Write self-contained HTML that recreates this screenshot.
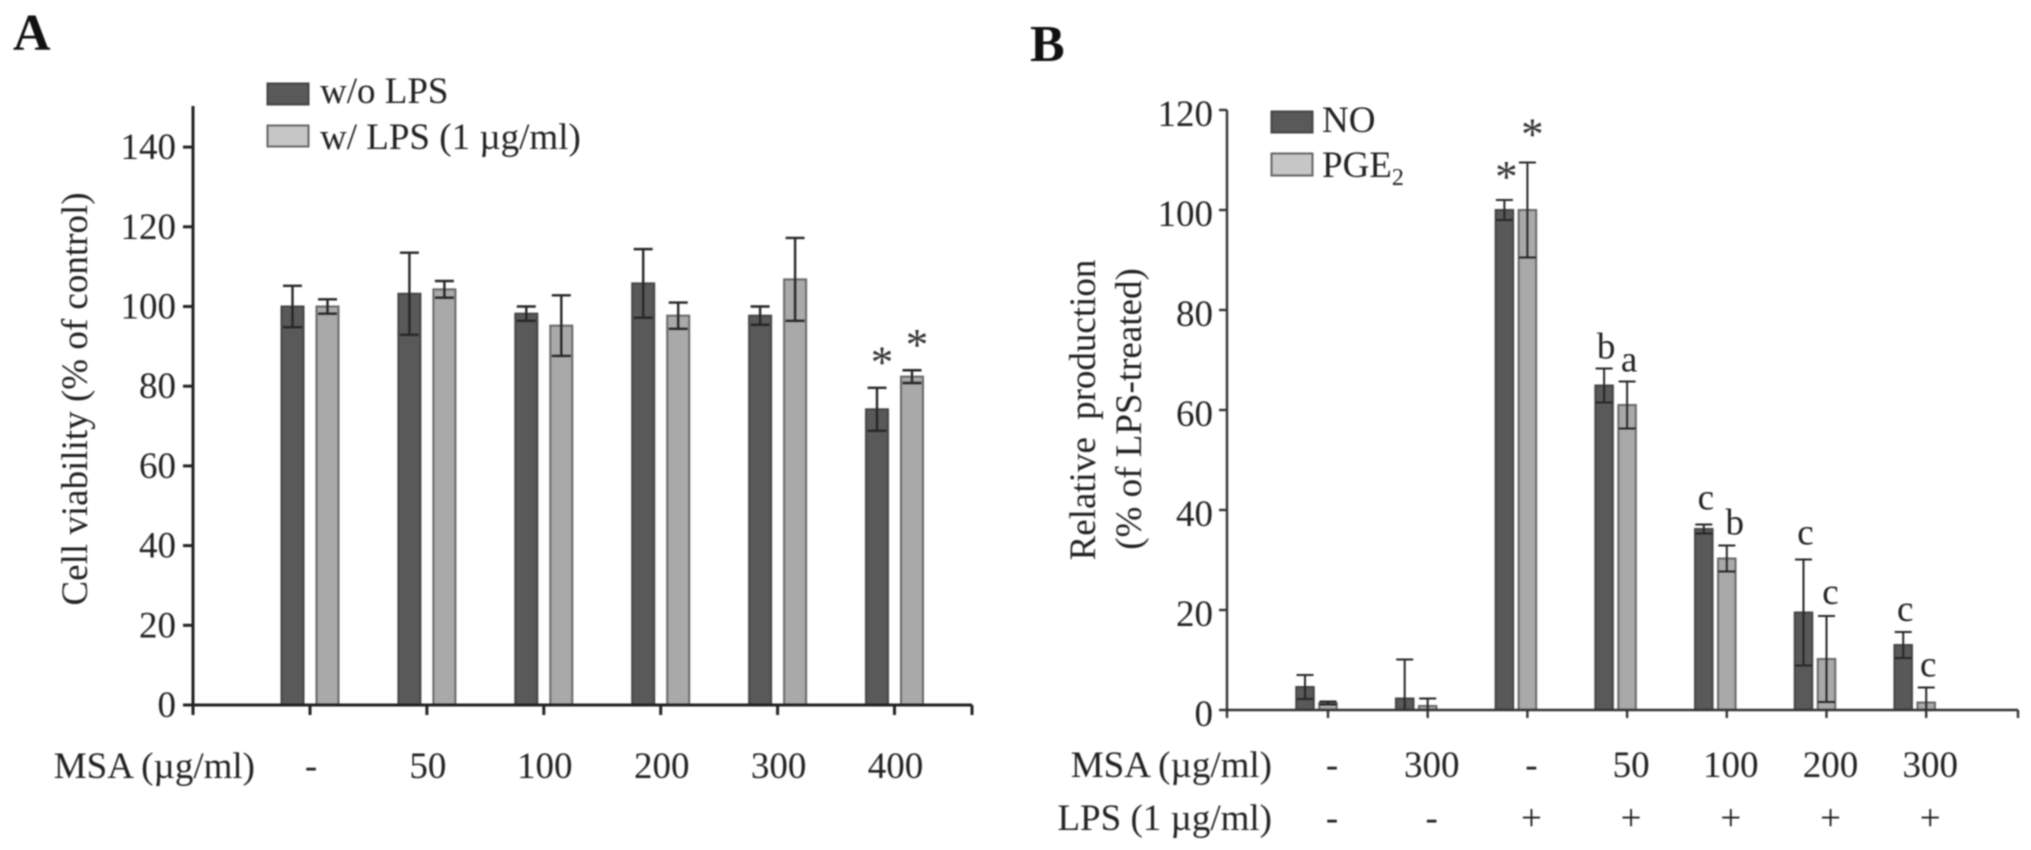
<!DOCTYPE html>
<html lang="en">
<head>
<meta charset="utf-8">
<title>Cell viability and relative NO / PGE2 production</title>
<style>
html,body{margin:0;padding:0;background:#fff;width:2031px;height:850px;overflow:hidden}
svg{display:block;filter:blur(0.7px)}
text{font-family:"Liberation Serif",serif;fill:#222;font-size:37px}
</style>
</head>
<body>
<svg id="figure" xmlns="http://www.w3.org/2000/svg" width="2031" height="850" viewBox="0 0 2031 850">
  <rect x="0" y="0" width="2031" height="850" fill="#ffffff"/>
  <g id="panel-a"></g>
  <g id="panel-b"></g>
  <text x="13" y="50" style="font-size:52px;font-weight:bold;fill:#111">A</text>
  <text x="1030" y="61" style="font-size:52px;font-weight:bold;fill:#111">B</text>

  <g>
    <g>
      <rect x="267.5" y="83.5" width="41" height="21" fill="#595959" stroke="#444" stroke-width="2"/>
      <text x="320" y="103">w/o LPS</text>
    </g>
    <g>
      <rect x="267.5" y="125.5" width="41" height="21" fill="#c6c6c6" stroke="#666" stroke-width="2"/>
      <text x="320" y="149">w/ LPS (1 µg/ml)</text>
    </g>
  </g>
  <g>
    <g>
      <rect x="1271.5" y="111.5" width="41" height="21" fill="#595959" stroke="#444" stroke-width="2"/>
      <text x="1322" y="132">NO</text>
    </g>
    <g>
      <rect x="1271.5" y="153.5" width="41" height="22" fill="#c6c6c6" stroke="#666" stroke-width="2"/>
      <text x="1322" y="177">PGE<tspan dy="8" style="font-size:24px">2</tspan></text>
    </g>
  </g>

  <text transform="translate(87,399) rotate(-90)" text-anchor="middle">Cell viability (% of control)</text>
  <text transform="translate(1095,410) rotate(-90)" text-anchor="middle" style="word-spacing:8px">Relative production</text>
  <text transform="translate(1141,409) rotate(-90)" text-anchor="middle">(% of LPS-treated)</text>

  <text x="255" y="778" text-anchor="end">MSA (µg/ml)</text>
  <text x="1272" y="777" text-anchor="end">MSA (µg/ml)</text>
  <text x="1272" y="830" text-anchor="end">LPS (1 µg/ml)</text>
</svg>

<script>
// Panel A data
const aCategories = ['-', '50', '100', '200', '300', '400'];
const aDark = [100, 103.2, 98.2, 105.8, 97.7, 74.2];
const aDarkErr = [5.2, 10.3, 1.8, 8.6, 2.3, 5.4];
const aLight = [100, 104.3, 95.2, 97.7, 106.8, 82.4];
const aLightErr = [1.8, 2.1, 7.6, 3.3, 10.4, 1.6];
const aTicks = [0, 20, 40, 60, 80, 100, 120, 140];
const aStars = [[5, 0, '*'], [5, 1, '*']];

// Panel B data
const bMsa = ['-', '300', '-', '50', '100', '200', '300'];
const bLps = ['-', '-', '+', '+', '+', '+', '+'];
const bDark = [4.6, 2.3, 100, 64.9, 36.2, 19.5, 13];
const bDarkErr = [2.4, 7.8, 2, 3.4, 0.9, 10.6, 2.6];
const bLight = [1.4, 0.8, 100, 61, 30.3, 10.2, 1.5];
const bLightErr = [0.3, 1.5, 9.5, 4.7, 2.6, 8.6, 3];
const bTicks = [0, 20, 40, 60, 80, 100, 120];
const bMarks = [[2, 0, '*'], [2, 1, '*', 3, 5], [3, 0, 'b'], [3, 1, 'a'], [4, 0, 'c', 0, 5], [4, 1, 'b', 6, 1], [5, 0, 'c', 0, 5], [5, 1, 'c', 2, 2], [6, 0, 'c', 0, 1], [6, 1, 'c', 0, 1]];

const NS = 'http://www.w3.org/2000/svg';
function make(parent, tag, attrs, txt) {
  const el = document.createElementNS(NS, tag);
  for (const k in attrs) el.setAttribute(k, attrs[k]);
  if (txt !== undefined) el.textContent = txt;
  parent.appendChild(el);
  return el;
}

function drawPanel(root, c) {
  const y = v => c.y0 - v * c.pxPerUnit;
  const tickX = i => c.tick0 + i * c.tickStep;

  const bars = make(root, 'g', {});
  
  

  const series = [
    {vals: c.dark, errs: c.darkErr, off: c.darkOff, fill: '#595959', stroke: '#454545', key: 'dark'},
    {vals: c.light, errs: c.lightErr, off: c.lightOff, fill: '#a9a9a9', stroke: '#686868', key: 'light'}
  ];
  series.forEach(s => {
    s.vals.forEach((v, i) => {
      const cx = tickX(i) + s.off;
      const r = make(bars, 'rect', {x: cx - c.barW / 2, y: y(v), width: c.barW, height: y(0) - y(v), fill: s.fill, stroke: s.stroke, 'stroke-width': 2});
      
      
    });
  });

  // axes
  const axes = make(root, 'g', {stroke: c.axisColor, 'stroke-width': c.axisW, fill: 'none'});
  
  
  const yAxis = make(axes, 'line', {x1: c.x0, x2: c.x0, y1: c.yTop, y2: c.y0 + c.tickLen});
  
  
  const xAxis = make(axes, 'line', {x1: c.x0 - c.axisW / 2, x2: c.xEnd, y1: c.y0, y2: c.y0});
  
  
  const xEndTick = make(axes, 'line', {x1: c.xEnd, x2: c.xEnd, y1: c.y0, y2: c.y0 + c.tickLen});
  
  

  c.ticks.forEach(t => {
    const m = make(axes, 'line', {x1: c.x0 - c.tickLen, x2: c.x0, y1: y(t), y2: y(t)});
    
    
    const l = make(root, 'text', {x: c.yLabelX, y: y(t) + c.yLabelDy, 'text-anchor': 'end'}, String(t));
    
    
  });
  c.rows[0].forEach((_, i) => {
    const m = make(axes, 'line', {x1: tickX(i), x2: tickX(i), y1: c.y0, y2: c.y0 + c.tickLen});
    
    
  });
  c.rows.forEach((row, ri) => {
    row.forEach((lab, i) => {
      const l = make(root, 'text', {x: tickX(i) + c.labelDx, y: c.rowY[ri], 'text-anchor': 'middle'}, lab);
      
      
    });
  });

  // error bars (lower whisker stops at the baseline)
  const errs = make(root, 'g', {stroke: '#262626', 'stroke-width': c.errW, fill: 'none'});
  
  
  series.forEach(s => {
    s.vals.forEach((v, i) => {
      const cx = tickX(i) + s.off;
      const hi = y(v + s.errs[i]), lo = y(Math.max(0, v - s.errs[i]));
      const g = make(errs, 'g', {});
      
      
      make(g, 'line', {x1: cx, x2: cx, y1: hi, y2: lo});
      make(g, 'line', {x1: cx - c.capW / 2, x2: cx + c.capW / 2, y1: hi, y2: hi});
      if (v - s.errs[i] > 0) make(g, 'line', {x1: cx - c.capW / 2, x2: cx + c.capW / 2, y1: lo, y2: lo});
    });
  });

  // significance marks: [group, series, glyph, extra dx, extra lift]
  c.marks.forEach(mk => {
    const i = mk[0], s = series[mk[1]], glyph = mk[2];
    const isStar = glyph === '*';
    const baseline = y(s.vals[i] + s.errs[i]) - (isStar ? c.starGap : c.letterGap) - (mk[4] || 0);
    const t = make(root, 'text', {x: tickX(i) + s.off + c.markDx + (mk[3] || 0), y: baseline, 'text-anchor': 'middle'}, glyph);
    if (isStar) t.setAttribute('style', 'font-size:45px;fill:#333');
    
    
  });
}

drawPanel(document.getElementById('panel-a'), {
  y0: 705, pxPerUnit: 3.985, x0: 193, yTop: 106, xEnd: 972,
  tick0: 310, tickStep: 116.9, darkOff: -17.5, lightOff: 17.5, barW: 22, capW: 19,
  dark: aDark, darkErr: aDarkErr, light: aLight, lightErr: aLightErr,
  ticks: aTicks, rows: [aCategories], rowY: [778], labelDx: 1,
  axisColor: '#222', axisW: 3, tickLen: 10, errW: 2.4,
  yLabelX: 176, yLabelDy: 12, marks: aStars, starGap: 10.5, letterGap: 10, markDx: 5
});

drawPanel(document.getElementById('panel-b'), {
  y0: 710, pxPerUnit: 5, x0: 1227, yTop: 110, xEnd: 2018,
  tick0: 1328, tickStep: 99.7, darkOff: -23, lightOff: 0, barW: 17.5, capW: 17,
  dark: bDark, darkErr: bDarkErr, light: bLight, lightErr: bLightErr,
  ticks: bTicks, rows: [bMsa, bLps], rowY: [777, 830], labelDx: 4,
  axisColor: '#333', axisW: 2.4, tickLen: 8, errW: 2,
  yLabelX: 1213, yLabelDy: 16, marks: bMarks, starGap: 8, letterGap: 10, markDx: 2
});
</script>
</body>
</html>
